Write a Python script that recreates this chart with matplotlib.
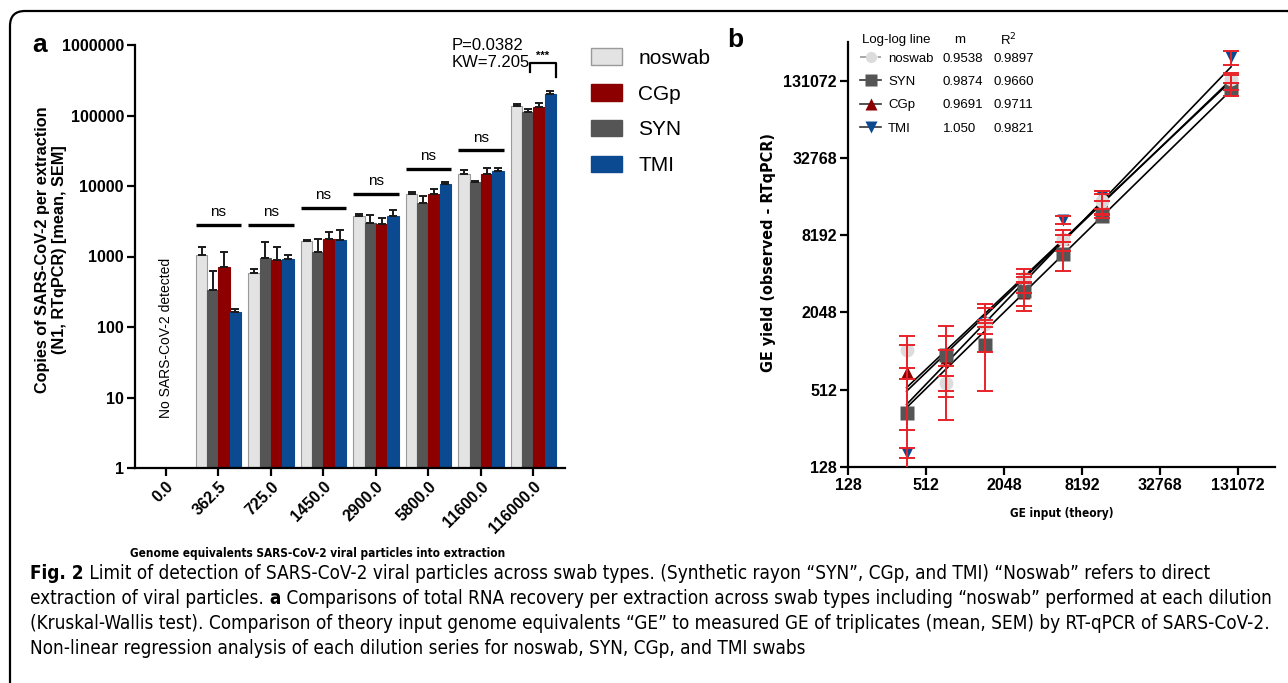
import numpy as np
import matplotlib
matplotlib.use("Agg")
import matplotlib.pyplot as plt
from matplotlib.patches import FancyBboxPatch, Patch
from matplotlib.lines import Line2D
from matplotlib.ticker import NullLocator
from matplotlib.transforms import IdentityTransform

# ---------------- data ----------------
dil_labels = ["0.0", "362.5", "725.0", "1450.0", "2900.0", "5800.0", "11600.0", "116000.0"]
dilutions = [0.0, 362.5, 725.0, 1450.0, 2900.0, 5800.0, 11600.0, 116000.0]
series = ["noswab", "SYN", "CGp", "TMI"]

noswab_mean = [np.nan, 1050, 580, 1650, 3800, 7700, 15000, 135000]
noswab_sem = [np.nan, 300, 80, 60, 250, 500, 2000, 10000]
syn_mean = [np.nan, 340, 950, 1150, 3000, 5800, 11500, 112000]
syn_sem = [np.nan, 280, 650, 650, 900, 1500, 300, 13000]
cgp_mean = [np.nan, 700, 900, 1800, 2900, 7600, 15000, 130000]
cgp_sem = [np.nan, 450, 450, 400, 600, 1400, 3000, 20000]
tmi_mean = [np.nan, 165, 920, 1700, 3700, 10800, 16500, 200000]
tmi_sem = [np.nan, 15, 130, 700, 800, 700, 1500, 25000]

ns_heights = [np.nan, 2800, 2800, 4900, 7800, 17500, 32000]
legend_m = ["0.9538", "0.9874", "0.9691", "1.050"]
legend_r2 = ["0.9897", "0.9660", "0.9711", "0.9821"]

colors = {"noswab": "#e3e3e3", "SYN": "#555555", "CGp": "#8c0000", "TMI": "#0b4a90"}
means = {"noswab": noswab_mean, "SYN": syn_mean, "CGp": cgp_mean, "TMI": tmi_mean}
sems = {"noswab": noswab_sem, "SYN": syn_sem, "CGp": cgp_sem, "TMI": tmi_sem}
slopes = {"noswab": float(legend_m[0]), "SYN": float(legend_m[1]),
          "CGp": float(legend_m[2]), "TMI": float(legend_m[3])}

plt.rcParams["font.family"] = ["Liberation Sans", "DejaVu Sans"]
NARROW = ["DejaVu Sans"]
NSTRETCH = "condensed"

W, H = 1288, 683
fig = plt.figure(figsize=(W / 100, H / 100), dpi=100)
fig.patch.set_facecolor("white")


def fx(px):
    return px / W


def fy(py):
    return 1 - py / H


# ---------------- panel a ----------------
axa = fig.add_axes([fx(135), fy(468), (565 - 135) / W, (468 - 45) / H])
axa.set_yscale("log")
x = np.arange(len(dil_labels))
bw = 0.215
for i, s in enumerate(series):
    m = np.array(means[s], float)
    e = np.array(sems[s], float)
    ok = ~np.isnan(m)
    offs = (i - 1.5) * bw
    ec = "#9a9a9a" if s == "noswab" else colors[s]
    axa.bar(x[ok] + offs, m[ok], bw, color=colors[s], edgecolor=ec, linewidth=0.8, zorder=2)
    axa.errorbar(x[ok] + offs, m[ok], yerr=[np.zeros(ok.sum()), e[ok]], fmt="none",
                 ecolor="#1a1a1a", elinewidth=1.4, capsize=3, capthick=1.4, zorder=3)

for i, h in enumerate(ns_heights):
    if np.isnan(h):
        continue
    axa.plot([i - 0.43, i + 0.43], [h, h], color="black", lw=2.4, solid_capstyle="butt")
    axa.annotate("ns", (i, h), xytext=(0, 4), textcoords="offset points",
                 ha="center", va="bottom", fontsize=11)

# bracket on the last group
last = len(dil_labels) - 1
axa.plot([last - 0.07, last - 0.07, last + 0.42, last + 0.42],
         [420000, 560000, 560000, 350000], color="black", lw=1.6, clip_on=False)
axa.text(last + 0.18, 600000, "***", ha="center", va="bottom", fontsize=8, weight="bold")
axa.text(last - 1.55, 1000000, "P=0.0382", ha="left", va="center", fontsize=12)
axa.text(last - 1.55, 560000, "KW=7.205", ha="left", va="center", fontsize=12)

axa.text(0, 70, "No SARS-CoV-2 detected", rotation=90, ha="center", va="center", fontsize=10)

axa.set_xlim(-0.59, 7.6)
axa.set_ylim(1, 1e6)
yt = [1, 10, 100, 1000, 10000, 100000, 1000000]
axa.set_yticks(yt)
axa.set_yticklabels([str(v) for v in yt])
axa.yaxis.set_minor_locator(NullLocator())
axa.set_xticks(x)
axa.set_xticklabels(dil_labels, rotation=45, ha="right", rotation_mode="anchor")
for sp in ["top", "right"]:
    axa.spines[sp].set_visible(False)
for sp in ["left", "bottom"]:
    axa.spines[sp].set_linewidth(1.6)
axa.tick_params(axis="both", length=6, width=1.6, labelsize=11.5, pad=2)
for lab in axa.get_xticklabels() + axa.get_yticklabels():
    lab.set_fontweight("bold")

leg_order = ["noswab", "CGp", "SYN", "TMI"]
handles = [Patch(facecolor=colors[s], edgecolor=("#9a9a9a" if s == "noswab" else colors[s]),
                 linewidth=1.0) for s in leg_order]
fig.legend(handles, leg_order, loc="upper left", bbox_to_anchor=(fx(583), fy(40)),
           frameon=False, fontsize=15, handlelength=1.45, handleheight=0.85,
           handletextpad=0.8, labelspacing=0.78, borderaxespad=0)

# ---------------- panel b ----------------
axb = fig.add_axes([fx(848), fy(467), (1275 - 848) / W, (467 - 42) / H])
axb.set_xscale("log", base=2)
axb.set_yscale("log", base=2)
xin = np.array(dilutions[1:])
markers = {"noswab": "o", "SYN": "s", "CGp": "^", "TMI": "v"}
msizes = {"noswab": 10, "SYN": 9.5, "CGp": 9, "TMI": 9}
draw_order = ["TMI", "CGp", "SYN", "noswab"]
for s in draw_order:
    m = np.array(means[s][1:], float)
    e = np.array(sems[s][1:], float)
    k = slopes[s]
    b = np.mean(np.log2(m) - k * np.log2(xin))
    xl = xin[[0, -1]]
    axb.plot(xl, 2 ** (k * np.log2(xl) + b), color="black", lw=1.2, zorder=2)
    axb.plot(xin, m, linestyle="none", marker=markers[s], ms=msizes[s],
             color=colors[s] if s != "noswab" else "#dcdcdc", mec="none", zorder=3)
    axb.errorbar(xin, m, yerr=e, fmt="none", ecolor="#e8232a", elinewidth=1.4,
                 capsize=6, capthick=1.4, zorder=4)

ticks_b = [128, 512, 2048, 8192, 32768, 131072]
axb.set_xlim(128, 128 * 2 ** 10.95)
axb.set_ylim(128, 2 ** 18)
axb.set_xticks(ticks_b)
axb.set_xticklabels([str(t) for t in ticks_b])
axb.set_yticks(ticks_b)
axb.set_yticklabels([str(t) for t in ticks_b])
axb.xaxis.set_minor_locator(NullLocator())
axb.yaxis.set_minor_locator(NullLocator())
for sp in ["top", "right"]:
    axb.spines[sp].set_visible(False)
for sp in ["left", "bottom"]:
    axb.spines[sp].set_linewidth(1.6)
axb.tick_params(axis="both", length=6, width=1.6, labelsize=11.5, pad=2)
for lab in axb.get_xticklabels() + axb.get_yticklabels():
    lab.set_fontweight("bold")

leg_b_order = ["noswab", "SYN", "CGp", "TMI"]
hb = []
for s in leg_b_order:
    hb.append(Line2D([], [], color=("#9a9a9a" if s == "noswab" else "#333333"),
                     linestyle=("--" if s == "noswab" else "-"), lw=1.2,
                     marker=markers[s], ms=8,
                     markerfacecolor=(colors[s] if s != "noswab" else "#dcdcdc"),
                     markeredgecolor="none"))
legb = fig.legend(hb, leg_b_order, loc="upper left", bbox_to_anchor=(fx(855), fy(47)),
                  frameon=False, fontsize=9.5, handlelength=1.6, handletextpad=0.5,
                  labelspacing=0.85, borderaxespad=0)

fig.text(fx(862), fy(40), "Log-log line", fontsize=9.5, va="center", ha="left")
fig.text(fx(960), fy(40), "m", fontsize=9.5, va="center", ha="center")
fig.text(fx(1008), fy(40), "R$^2$", fontsize=9.5, va="center", ha="center")

# panel labels
fig.text(fx(40), fy(45), "a", fontsize=19, weight="bold", ha="center", va="center")
fig.text(fx(735), fy(40), "b", fontsize=19, weight="bold", ha="center", va="center")

fig.canvas.draw()
r = fig.canvas.get_renderer()

for t, mv, rv in zip(legb.get_texts(), legend_m, legend_r2):
    bb = t.get_window_extent(r)
    yc = (bb.y0 + bb.y1) / 2
    fig.text(fx(943), yc / H, mv, fontsize=9.5, va="center", ha="left")
    fig.text(fx(993), yc / H, rv, fontsize=9.5, va="center", ha="left")


def fit_width(t, target):
    bb = t.get_window_extent(r)
    t.set_fontsize(t.get_fontsize() * target / bb.width)


def fit_height(t, target):
    bb = t.get_window_extent(r)
    t.set_fontsize(t.get_fontsize() * target / bb.height)


yla = fig.text(fx(51), fy(250), "Copies of SARS-CoV-2 per extraction\n(N1, RTqPCR) [mean, SEM]",
               rotation=90, ha="center", va="center", weight="bold", fontsize=12,
               linespacing=1.1, multialignment="center")
fit_height(yla, 285)
ylb = fig.text(fx(768), fy(253), "GE yield (observed - RTqPCR)", rotation=90,
               ha="center", va="center", weight="bold", fontsize=12, family=NARROW,
               fontstretch=NSTRETCH)
fit_height(ylb, 238)
xla = fig.text(fx(318), fy(553), "Genome equivalents SARS-CoV-2 viral particles into extraction",
               ha="center", va="center", weight="bold", fontsize=12, family=NARROW,
               fontstretch=NSTRETCH)
fit_width(xla, 372)
xlb = fig.text(fx(1062), fy(513), "GE input (theory)", ha="center", va="center",
               weight="bold", fontsize=12, family=NARROW, fontstretch=NSTRETCH)
fit_width(xlb, 104)

# ---------------- caption ----------------
cap_lines = [
    [("Fig. 2", "bold"), (" Limit of detection of SARS-CoV-2 viral particles across swab types. (Synthetic rayon \u201cSYN\u201d, CGp, and TMI) \u201cNoswab\u201d refers to direct", "normal")],
    [("extraction of viral particles.", "normal"), (" a", "bold"), (" Comparisons of total RNA recovery per extraction across swab types including \u201cnoswab\u201d performed at each dilution", "normal")],
    [("(Kruskal-Wallis test). Comparison of theory input genome equivalents \u201cGE\u201d to measured GE of triplicates (mean, SEM) by RT-qPCR of SARS-CoV-2.", "normal")],
    [("Non-linear regression analysis of each dilution series for noswab, SYN, CGp, and TMI swabs", "normal")],
]
probe = fig.text(0, 0, "".join(seg for seg, _ in cap_lines[1]), fontsize=12, family=NARROW,
                 fontstretch=NSTRETCH)
pw = probe.get_window_extent(r).width
cap_fs = 12 * 1238 / pw
probe.remove()

cap_y = [579, 604, 629, 654]
for segs, yy in zip(cap_lines, cap_y):
    xp = 30
    for seg, wt in segs:
        t = fig.text(fx(xp), fy(yy), seg, fontsize=cap_fs, weight=wt, family=NARROW,
                     fontstretch=NSTRETCH, ha="left", va="baseline")
        xp += t.get_window_extent(r).width

# outer frame
frame = FancyBboxPatch((10, -30), 1293, 683 - 11 + 30, boxstyle="round,pad=0,rounding_size=15",
                       transform=IdentityTransform(), fill=False, lw=1.6, ec="black")
fig.add_artist(frame)

fig.savefig("out.png", dpi=100)
